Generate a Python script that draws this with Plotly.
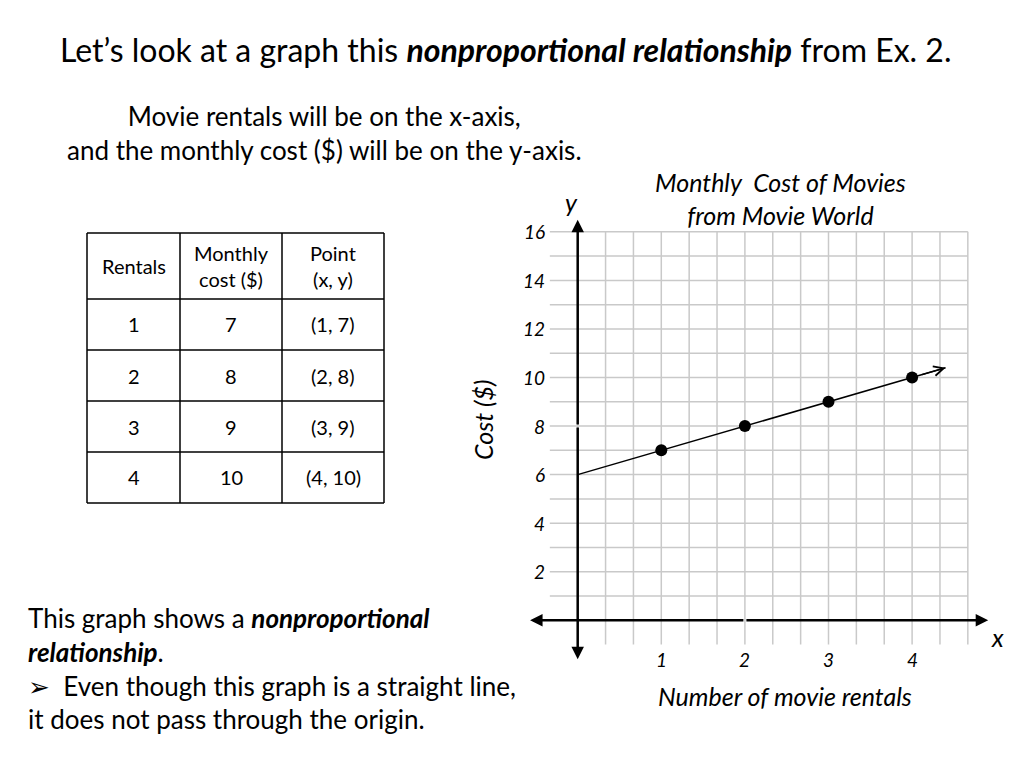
import plotly.graph_objects as go

# data from the slide
rentals = [1, 2, 3, 4]
monthly_cost = [7, 8, 9, 10]
table_header = ['Rentals', 'Monthly<br>cost ($)', 'Point<br>(x, y)']
y_ticks = [2, 4, 6, 8, 10, 12, 14, 16]
x_ticks = [1, 2, 3, 4]

slope = (monthly_cost[-1] - monthly_cost[0]) / (rentals[-1] - rentals[0])
intercept = monthly_cost[0] - slope * rentals[0]
line_end = 4.4

# page body has an 8px margin, so the figure is 8px smaller on each side
OFF = 8
W, H = 1024 - OFF, 768 - OFF
FONT = 'Lato'


def px(x):
    return (x - OFF) / W


def py(y):
    return 1 - (y - OFF) / H


# axis mapping (screen px): x=0 at 577.7, 83.6px per unit; y=0 at 620.3, 24.28px per unit
x_rng = [-0.7, 5.0]
y_rng = [-2.0, 17.0]
x_dom = [px(577.7 + 83.6 * x_rng[0]), px(577.7 + 83.6 * x_rng[1])]
y_dom = [py(620.3 - 24.28 * y_rng[0]), py(620.3 - 24.28 * y_rng[1])]

fig = go.Figure()

# grid
gx, gy = [], []
for k in range(0, 15):
    gx += [k / 3, k / 3, None]
    gy += [-1, 16, None]
for j in range(1, 17):
    gx += [-1 / 3, 14 / 3, None]
    gy += [j, j, None]
fig.add_trace(go.Scatter(x=gx, y=gy, mode='lines', line=dict(color='#c9c9c9', width=1.5),
                         hoverinfo='skip', showlegend=False))

# relationship line
fig.add_trace(go.Scatter(x=[0, line_end], y=[intercept, intercept + slope * line_end], mode='lines',
                         line=dict(color='black', width=1.5), showlegend=False))
fig.add_trace(go.Scatter(x=rentals, y=monthly_cost, mode='markers',
                         marker=dict(color='black', size=12), showlegend=False))

ann = []


def arrow(x0, y0, x1, y1, head=2, size=1.0, width=2.5):
    ann.append(dict(x=x1, y=y1, ax=x0, ay=y0, xref='x', yref='y', axref='x', ayref='y',
                    showarrow=True, arrowhead=head, arrowsize=size, arrowwidth=width,
                    arrowcolor='black', text=''))


def label(x, y, text, font, xanchor='center', **kw):
    ann.append(dict(x=px(x), y=py(y), xref='paper', yref='paper', showarrow=False, text=text,
                    xanchor=xanchor, yanchor='middle', font=font, **kw))


arrow(2, 0, -0.57, 0)
arrow(2, 0, 4.91, 0)
arrow(0, 8, 0, 16.5)
arrow(0, 8, 0, -1.6)
arrow(line_end - 0.3, intercept + slope * (line_end - 0.3), line_end, intercept + slope * line_end,
      head=5, size=1.6, width=1.2)

tick_font = dict(family=FONT, size=19, color='black', style='italic')
for t in y_ticks:
    ann.append(dict(x=-0.37, y=t, xref='x', yref='y', text=str(t), showarrow=False,
                    xanchor='right', yanchor='middle', font=tick_font))
for t in x_ticks:
    ann.append(dict(x=t, y=-1.6, xref='x', yref='y', text=str(t), showarrow=False,
                    xanchor='center', yanchor='middle', font=tick_font))

italic = dict(family=FONT, size=25, color='black', style='italic')
label(780, 198, 'Monthly  Cost of Movies<br>from Movie World', italic)
label(785, 696, 'Number of movie rentals', italic)
label(483, 420, 'Cost ($)', italic, textangle=-90)
label(997, 637, 'x', italic)
label(571, 202, 'y', italic)

# slide text
plain = dict(family=FONT, size=26, color='black')
label(505, 50, "Let’s look at a graph this <b><i>nonproportional relationship</i></b> from Ex. 2.",
      dict(family=FONT, size=32, color='black'))
label(324, 133, 'Movie rentals will be on the x-axis,<br>and the monthly cost ($) will be on the y-axis.',
      plain)
label(26, 668, 'This graph shows a <b><i>nonproportional</i></b><br><b><i>relationship</i></b>.'
               '<br>➢  Even though this graph is a straight line,<br>it does not pass through the origin.',
      plain, xanchor='left', align='left')

# table
col_x = [87, 180, 282, 384]
row_y = [233, 299, 350, 401, 452, 503]
shapes = []
for cx in col_x:
    shapes.append(dict(type='line', xref='paper', yref='paper', x0=px(cx), x1=px(cx),
                       y0=py(row_y[0]), y1=py(row_y[-1]), line=dict(color='black', width=1.5)))
for ry in row_y:
    shapes.append(dict(type='line', xref='paper', yref='paper', x0=px(col_x[0]), x1=px(col_x[-1]),
                       y0=py(ry), y1=py(ry), line=dict(color='black', width=1.5)))
rows = [table_header] + [[str(r), str(c), f'({r}, {c})'] for r, c in zip(rentals, monthly_cost)]
for i, row in enumerate(rows):
    for j, txt in enumerate(row):
        label((col_x[j] + col_x[j + 1]) / 2, (row_y[i] + row_y[i + 1]) / 2, txt,
              dict(family=FONT, size=20, color='black'))

fig.update_layout(
    width=W, height=H,
    margin=dict(l=0, r=0, t=0, b=0),
    paper_bgcolor='white', plot_bgcolor='white',
    xaxis=dict(domain=x_dom, range=x_rng, visible=False, fixedrange=True),
    yaxis=dict(domain=y_dom, range=y_rng, visible=False, fixedrange=True),
    annotations=ann, shapes=shapes, showlegend=False,
)

fig.write_html('out.html')
